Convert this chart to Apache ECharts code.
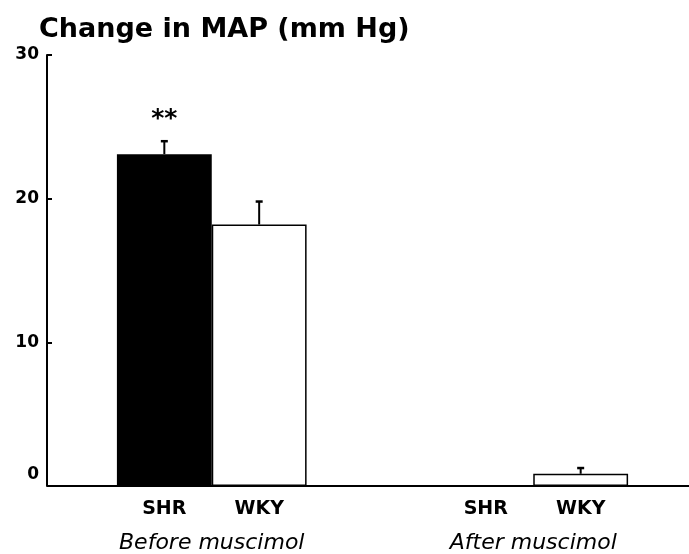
<!DOCTYPE html>
<html>
<head>
<meta charset="utf-8">
<script src="https://cdn.jsdelivr.net/npm/echarts@6/dist/echarts.min.js"></script>
<style>
  html, body { margin: 0; padding: 0; background: #fff; }
  #chart { width: 689px; height: 554px; }
</style>
</head>
<body>
<div id="chart"></div>
<script>
// ---- data ----
const titleText = 'Change in MAP (mm Hg)';
const groups = ['Before muscimol', 'After muscimol'];
const strains = ['SHR', 'WKY'];
const shrMean = [23.1, 0];
const shrErr = [0.9, 0];
const wkyMean = [18.2, 0.85];
const wkyErr = [1.6, 0.4];
const shrSig = ['**', ''];
const yTicks = [0, 10, 20, 30];

// ---- chart ----
const BAR_FRAC = 0.295;
const FONT = 'DejaVu Sans';

function errRender(k) {
  return function (params, api) {
    const g = api.value(0), m = api.value(1), e = api.value(2);
    if (!e) return;
    const bw = api.size([1, 0])[0] * BAR_FRAC;
    const base = api.coord([g, m]);
    const top = api.coord([g, m + e]);
    const x = base[0] + (k - 0.5) * bw;
    return {
      type: 'group',
      children: [
        { type: 'line', shape: { x1: x, y1: base[1], x2: x, y2: top[1] }, style: { stroke: '#000', lineWidth: 2 } },
        { type: 'line', shape: { x1: x - 3.5, y1: top[1], x2: x + 3.5, y2: top[1] }, style: { stroke: '#000', lineWidth: 2.5 } }
      ]
    };
  };
}

const chart = echarts.init(document.getElementById('chart'), null, { renderer: 'canvas' });
const sub = strains.map(s => '{s|' + s + '}').join('');
chart.setOption({
  animation: false,
  backgroundColor: '#fff',
  title: {
    text: titleText,
    left: 34, top: 11,
    textStyle: { fontFamily: FONT, fontWeight: 'bold', fontSize: 27, color: '#000' }
  },
  grid: { left: 51, right: -5, top: 55, bottom: 68, containLabel: false, outerBoundsMode: 'none' },
  xAxis: {
    type: 'category',
    data: groups,
    axisLine: { lineStyle: { color: '#000', width: 2 } },
    axisTick: { show: false },
    axisLabel: {
      interval: 0,
      margin: 11,
      formatter: v => sub + '\n{g|' + v + '}',
      rich: {
        s: { fontFamily: FONT, fontWeight: 'bold', fontSize: 19, color: '#000', width: 95, align: 'center', lineHeight: 24 },
        g: { fontFamily: FONT, fontStyle: 'italic', fontSize: 22, color: '#000', lineHeight: 44, align: 'center' }
      }
    }
  },
  yAxis: {
    type: 'value',
    min: yTicks[0], max: yTicks[yTicks.length - 1], interval: 10,
    offset: 4,
    axisLine: { show: true, lineStyle: { color: '#000', width: 2 } },
    axisTick: { show: true, inside: true, length: 5, lineStyle: { color: '#000', width: 2 } },
    splitLine: { show: false },
    axisLabel: {
      margin: 8,
      formatter: v => v === 0 ? '{z|0}' : '{n|' + v + '}',
      rich: {
        n: { fontFamily: FONT, fontWeight: 'bold', fontSize: 17, color: '#000' },
        z: { fontFamily: FONT, fontWeight: 'bold', fontSize: 17, color: '#000', padding: [0, 0, 22, 0] }
      }
    }
  },
  series: [
    {
      name: strains[0], type: 'bar', data: shrMean,
      barWidth: (BAR_FRAC * 100) + '%', barGap: '0%',
      itemStyle: { color: '#000' },
      label: {
        show: true, position: 'top', distance: 22,
        formatter: p => shrSig[p.dataIndex],
        fontFamily: FONT, fontWeight: 'bold', fontSize: 25, color: '#000'
      }
    },
    {
      name: strains[1], type: 'bar', data: wkyMean,
      barWidth: (BAR_FRAC * 100) + '%', barGap: '0%',
      itemStyle: { color: '#fff', borderColor: '#000', borderWidth: 1.5 }
    },
    {
      type: 'custom', renderItem: errRender(0), z: 5,
      data: groups.map((g, i) => [i, shrMean[i], shrErr[i]])
    },
    {
      type: 'custom', renderItem: errRender(1), z: 5,
      data: groups.map((g, i) => [i, wkyMean[i], wkyErr[i]])
    }
  ]
});
</script>
</body>
</html>
